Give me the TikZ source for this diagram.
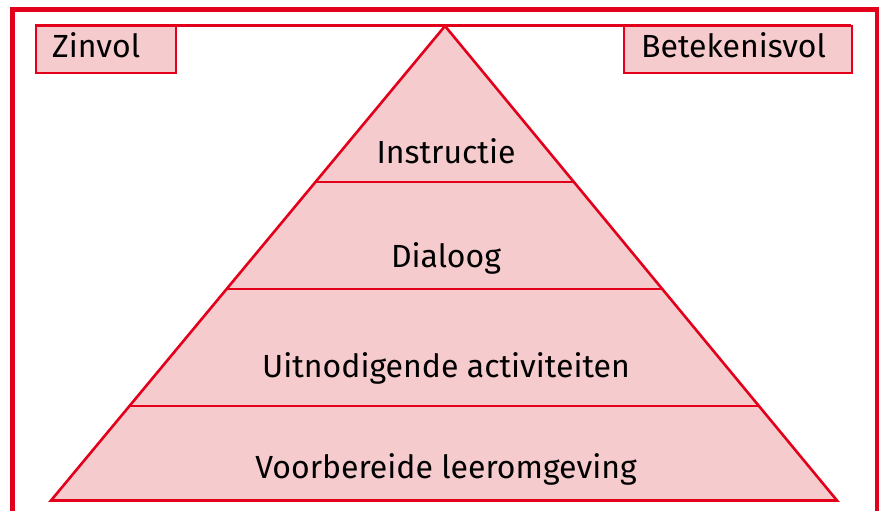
\documentclass[tikz,border=0pt]{standalone}
\usepackage{fontspec}
\setmainfont{Fira Sans}
\usetikzlibrary{calc}
\definecolor{rred}{HTML}{E2001A}
\definecolor{rpink}{HTML}{F6CBCE}
\begin{document}
\begin{tikzpicture}[x=1pt,y=-1pt,
  lbl/.style={font=\fontsize{32}{38}\selectfont, text=black, inner sep=0pt},
  tagbox/.style={draw=rred, fill=rpink, line width=2.2pt, inner sep=0pt, anchor=north west},
  layerline/.style={draw=rred, line width=2.6pt}]
\useasboundingbox (0,0) rectangle (884,511);
\clip (0,0) rectangle (884,511);
% outer frame
\draw[rred, line width=4.8pt] (12.5,530) -- (12.5,9.5) -- (877,9.5) -- (877,530);
% thin top line
\coordinate (tl) at (35,25.5);
\coordinate (tr) at (851,25.5);
\draw[rred, line width=2.2pt] (tl) -- (tr);
% boxes
\node[tagbox, minimum width=140pt, minimum height=47pt] (zin) at (35,25) {};
\node[lbl, anchor=base west] (zint) at (52,58) {Zinvol};
\node[tagbox, minimum width=228pt, minimum height=47pt] (bet) at (623,25) {};
\node[lbl, anchor=base west] (bett) at (641,58) {Betekenisvol};
% pyramid
\coordinate (apex) at (445,26);
\coordinate (bl) at (51,500.5);
\coordinate (br) at (837,500.5);
\fill[rpink] (apex) -- (bl) -- (br) -- cycle;
\coordinate (l1) at ($(apex)!0.3288!(bl)$);
\coordinate (r1) at ($(apex)!0.3288!(br)$);
\coordinate (l2) at ($(apex)!0.5543!(bl)$);
\coordinate (r2) at ($(apex)!0.5543!(br)$);
\coordinate (l3) at ($(apex)!0.8008!(bl)$);
\coordinate (r3) at ($(apex)!0.8008!(br)$);
\draw[layerline] (l1) -- (r1);
\draw[layerline] (l2) -- (r2);
\draw[layerline] (l3) -- (r3);
\draw[layerline, line join=miter] (apex) -- (bl) -- (br) -- cycle;
% labels
\node[lbl, anchor=base] (t1) at (446,163) {Instructie};
\node[lbl, anchor=base] (t2) at (446,267) {Dialoog};
\node[lbl, anchor=base] (t3) at (446,377) {Uitnodigende activiteiten};
\node[lbl, anchor=base] (t4) at (446,478) {Voorbereide leeromgeving};
\end{tikzpicture}
\end{document}
